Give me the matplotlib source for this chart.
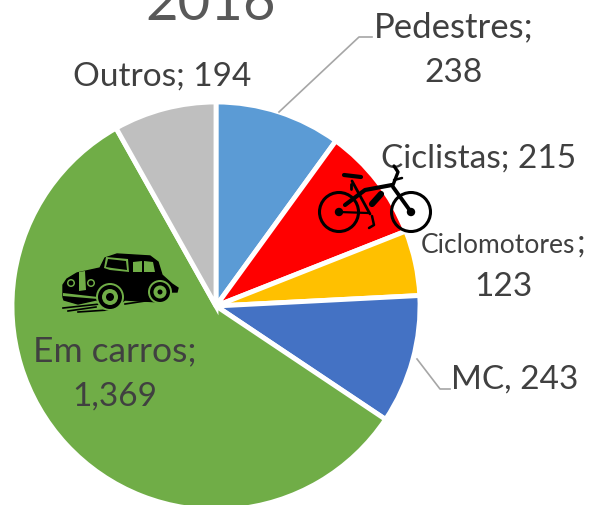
import matplotlib
matplotlib.use("Agg")
import matplotlib.pyplot as plt
from matplotlib.patches import Circle, Polygon

categories = ["Pedestres", "Ciclistas", "Ciclomotores", "MC", "Em carros", "Outros"]
values = [238, 215, 123, 243, 1369, 194]
colors = ["#5B9BD5", "#FF0000", "#FFC000", "#4472C4", "#70AD47", "#BFBFBF"]
title = "2016"

TXT = "#404040"
GREEN = "#70AD47"
plt.rcParams["font.family"] = "Lato"

fig = plt.figure(figsize=(5.92, 5.05), dpi=100)
ax = fig.add_axes([0, 0, 1, 1])
ax.set_xlim(0, 592)
ax.set_ylim(505, 0)
ax.axis("off")

# pie on its own axes, so y goes up as usual
pax = fig.add_axes([0, 0, 1, 1], zorder=0)
pax.pie(values, colors=colors, startangle=90, counterclock=False, center=(216, 199), radius=204,
        wedgeprops=dict(edgecolor="white", linewidth=3.5))
pax.set_xlim(0, 592)
pax.set_ylim(0, 505)
pax.set_aspect("auto")
pax.axis("off")
ax.set_zorder(1)
ax.patch.set_alpha(0)


def label(x, y, s, size=24):
    ax.text(x, y, s, fontsize=size, color=TXT, ha="center", va="baseline")


ax.text(211, 20, title, fontsize=40.5, color="#595959", ha="center", va="baseline")
label(454, 37, "Pedestres;", 25)
label(454, 82, "238")
label(162, 86, "Outros; 194")
label(479, 168, "Ciclistas; 215")
ax.text(498, 253, "Ciclomotores", fontsize=19, color=TXT, ha="center", va="baseline")
ax.text(577, 253, ";", fontsize=24, color=TXT, ha="left", va="baseline")
label(503, 296, "123")
label(515, 389, "MC, 243")
label(115, 361, "Em carros;", 25.5)
label(115, 406, "1,369")

# leader lines
ax.plot([279, 359, 372], [112, 37, 37], color="#A6A6A6", lw=1.2)
ax.plot([417, 440, 450], [359, 389, 389], color="#A6A6A6", lw=1.2)

# bike icon
k = "black"
for cx in (339, 411):
    ax.add_patch(Circle((cx, 212), 19.5, fc="none", ec=k, lw=2.2, zorder=3))
    ax.add_patch(Circle((cx, 212), 3.5, fc=k, ec=k, zorder=3))
for xs, ys, w in [([339, 368], [212, 213], 1.6), ([345, 365, 392], [205, 190, 185], 3),
                  ([352, 370], [181, 214], 2), ([393, 411], [187, 212], 2.8),
                  ([372, 381], [204, 194], 4.5), ([393, 398, 394], [185, 172, 166], 2.4),
                  ([344, 361], [175, 177], 3), ([394, 402], [180, 178], 1.8),
                  ([372, 374, 369], [216, 225, 228], 1.8), ([351, 351], [184, 189], 2)]:
    ax.plot(xs, ys, color=k, lw=w, solid_capstyle="round", zorder=3)

# car icon
ax.add_patch(Polygon([(63, 297), (63, 285), (67, 279), (77, 273), (100, 268), (105, 258), (117, 254),
                      (150, 256), (158, 262), (162, 275), (172, 284), (178, 288), (177, 292),
                      (167, 292), (160, 302), (125, 300), (112, 308), (96, 300), (78, 304), (64, 300)],
                     fc=k, ec=k, zorder=3))
ax.add_patch(Polygon([(104, 268), (106, 257), (128, 259), (129, 272), (110, 270)], fc=GREEN, ec="none", zorder=4))
ax.add_patch(Polygon([(106, 267), (108, 259), (126, 261), (127, 270), (112, 268)], fc=k, ec="none", zorder=5))
ax.add_patch(Polygon([(133, 262), (142, 261), (142, 272), (133, 272)], fc=GREEN, ec="none", zorder=4))
ax.add_patch(Polygon([(144, 261), (153, 262), (155, 272), (144, 272)], fc=GREEN, ec="none", zorder=4))
ax.add_patch(Polygon([(79, 272), (85, 271), (86, 290), (79, 291)], fc=GREEN, ec="none", zorder=4))
ax.add_patch(Polygon([(63, 293), (98, 297), (98, 299), (63, 296)], fc=GREEN, ec="none", zorder=4))
for cx, cy, rs in [(110, 297, (14, 12, 8, 4)), (160, 292, (12, 10, 6.5, 2.5))]:
    for r, c in zip(rs, (GREEN, k, GREEN, k)):
        ax.add_patch(Circle((cx, cy), r, fc=c, ec="none", zorder=5))
for cx, cy in [(71, 283), (91, 283)]:
    ax.add_patch(Circle((cx, cy), 4, fc=GREEN, ec="none", zorder=5))
    ax.add_patch(Circle((cx, cy), 2.5, fc=k, ec="none", zorder=6))
for xs, ys in [([63, 100], [308, 304]), ([68, 96], [311, 307]), ([78, 108], [312, 310]), ([125, 152], [304, 300])]:
    ax.plot(xs, ys, color=k, lw=1.2, zorder=3)

fig.savefig("out.png", dpi=100)
